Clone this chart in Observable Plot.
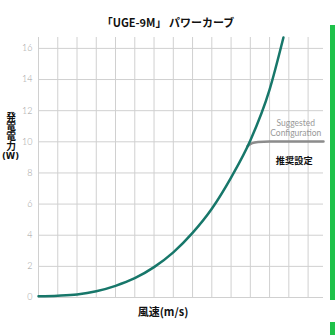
<!DOCTYPE html>
<html><head><meta charset="utf-8">
<script src="https://cdn.jsdelivr.net/npm/d3@7"></script>
<script src="https://cdn.jsdelivr.net/npm/@observablehq/plot@0.6"></script>
<style>
html,body{margin:0;padding:0;background:#fff;}
#wrap{position:relative;width:335px;height:335px;overflow:hidden;}
.bar{position:absolute;background:#1fc24a;}
#ylab{position:absolute;left:5px;top:112px;width:11px;font-family:'Noto Sans CJK JP',sans-serif;font-weight:bold;font-size:9.7px;line-height:11px;color:#111;writing-mode:vertical-rl;text-orientation:upright;}
#yunit{position:absolute;left:0px;top:151px;width:21px;text-align:center;font-family:'DejaVu Sans',sans-serif;font-weight:bold;font-size:8.5px;line-height:10px;color:#111;}
</style></head><body>
<div id="wrap"></div>
<script>
const titleText = "「UGE-9M」 パワーカーブ";
const xLabel = "風速(m/s)";
const yLabelMain = "発電電力";
const yLabelUnit = "(W)";
const suggestedText = "Suggested\nConfiguration";
const suggestedJa = "推奨設定";
const windSpeed = [0, 1, 2, 3, 4, 5, 6, 7, 8, 9, 10, 11, 12, 12.72];
const powerCurve = [0.08, 0.12, 0.2, 0.4, 0.75, 1.24, 1.95, 2.9, 4.15, 5.7, 7.7, 10.08, 13.35, 16.7];
const suggestedX = [10.85, 11.1, 11.4, 12, 13, 14.8];
const suggestedY = [9.72, 9.92, 9.99, 10.02, 10.02, 10.02];
const yTicks = [0, 2, 4, 6, 8, 10, 12, 14, 16];
const xGrid = [0,1,2,3,4,5,6,7,8,9,10,11,12,13,14];

const curve = windSpeed.map((x,i)=>({x, y: powerCurve[i]}));
const sugg = suggestedX.map((x,i)=>({x, y: suggestedY[i]}));

const jp = "'Noto Sans CJK JP', sans-serif";
const chart = Plot.plot({
  width: 335, height: 335,
  marginLeft: 38, marginRight: 12, marginTop: 37, marginBottom: 38,
  x: {domain: [0, 14.8], axis: null},
  y: {domain: [0, 16.7], axis: null},
  style: {background: "transparent"},
  marks: [
    Plot.ruleX(xGrid, {stroke: "#d0d0d0", strokeWidth: 1}),
    Plot.ruleY(yTicks, {stroke: "#d0d0d0", strokeWidth: 1}),
    Plot.text(yTicks, {x: 0, y: d=>d, text: d=>String(d), textAnchor: "end", dx: -6, fill: "#a0a0a0", fontSize: 9, fontFamily: "Lato, sans-serif", fontWeight: 300}),
    Plot.line(sugg, {x: "x", y: "y", stroke: "#8c8c8c", strokeWidth: 2.5, curve: "monotone-x"}),
    Plot.line(curve, {x: "x", y: "y", stroke: "#17776a", strokeWidth: 2.5, curve: "monotone-x"}),
    Plot.text([suggestedText], {x: 13.36, y: 10.9, text: d=>d, fill: "#999999", fontSize: 8.5, fontFamily: "Lato, sans-serif", fontWeight: 400, lineHeight: 1.2}),
    Plot.text([suggestedJa], {x: 13.28, y: 8.75, text: d=>d, fill: "#111", fontSize: 9.2, fontWeight: "bold", fontFamily: jp}),
    Plot.text([titleText], {frameAnchor: "top", dx: -13, dy: -18, text: d=>d, fill: "#111", fontSize: 11, fontWeight: "bold", fontFamily: jp}),
    Plot.text([xLabel], {frameAnchor: "bottom", dx: -18, dy: 18, text: d=>d, fill: "#111", fontSize: 11, fontWeight: "bold", fontFamily: jp})
  ]
});
const wrap = document.getElementById("wrap");
chart.style.position="absolute"; chart.style.left="0"; chart.style.top="0";
wrap.appendChild(chart);
const yl = document.createElement("div"); yl.id = "ylab"; yl.textContent = yLabelMain;
const yu = document.createElement("div"); yu.id = "yunit"; yu.textContent = yLabelUnit;
wrap.appendChild(yl); wrap.appendChild(yu);
const b1 = document.createElement("div"); b1.className="bar";
b1.style.cssText="left:330px;top:25px;width:5px;height:275px;";
const b2 = document.createElement("div"); b2.className="bar";
b2.style.cssText="left:330px;top:322px;width:5px;height:13px;";
wrap.appendChild(b1); wrap.appendChild(b2);
</script>
</body></html>
